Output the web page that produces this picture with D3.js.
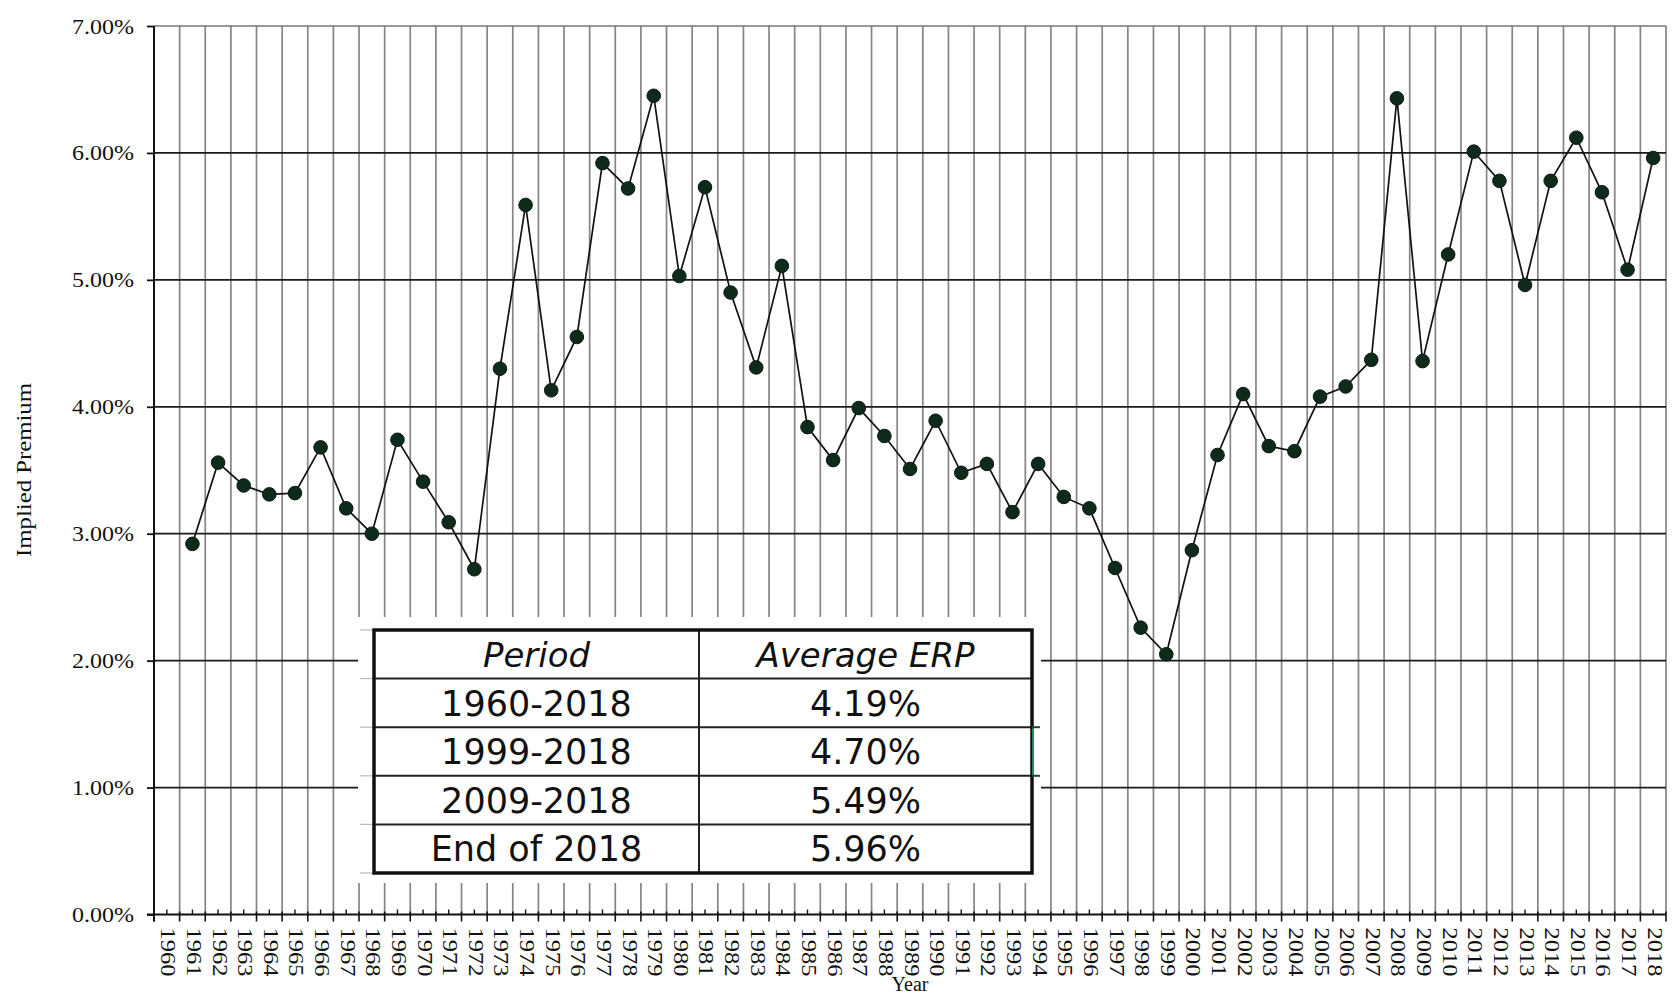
<!DOCTYPE html>
<html><head><meta charset="utf-8">
<script src="https://cdn.jsdelivr.net/npm/d3@7"></script>
<style>body{margin:0;background:#fff;}svg{display:block}</style>
</head><body>
<svg id="chart" width="1674" height="995"></svg>
<script>
// ---- data ----
const years = ["1960","1961","1962","1963","1964","1965","1966","1967","1968","1969",
  "1970","1971","1972","1973","1974","1975","1976","1977","1978","1979",
  "1980","1981","1982","1983","1984","1985","1986","1987","1988","1989",
  "1990","1991","1992","1993","1994","1995","1996","1997","1998","1999",
  "2000","2001","2002","2003","2004","2005","2006","2007","2008","2009",
  "2010","2011","2012","2013","2014","2015","2016","2017","2018"];
// implied premium (%) — 1960 has no plotted point
const premium = [null,2.92,3.56,3.38,3.31,3.32,3.68,3.20,3.00,3.74,
  3.41,3.09,2.72,4.30,5.59,4.13,4.55,5.92,5.72,6.45,
  5.03,5.73,4.90,4.31,5.11,3.84,3.58,3.99,3.77,3.51,
  3.89,3.48,3.55,3.17,3.55,3.29,3.20,2.73,2.26,2.05,
  2.87,3.62,4.10,3.69,3.65,4.08,4.16,4.37,6.43,4.36,
  5.20,6.01,5.78,4.96,5.78,6.12,5.69,5.08,5.96];
const yTicks = [0,1,2,3,4,5,6,7];
const yTickLabels = ["0.00%","1.00%","2.00%","3.00%","4.00%","5.00%","6.00%","7.00%"];
const tableHeaders = ["Period","Average ERP"];
const tablePeriods = ["1960-2018","1999-2018","2009-2018","End of 2018"];
const tableAverages = ["4.19%","4.70%","5.49%","5.96%"];
const xTitle = "Year";
const yTitle = "Implied Premium";

// ---- layout ----
const svg = d3.select("#chart");
const L = 154, R = 1666, T = 26, B = 914.5;
const x = d3.scaleBand().domain(years).range([L, R]).padding(0);
const y = d3.scaleLinear().domain([0, 7]).range([B, T]);
const serif = "'Liberation Serif','Times New Roman',serif";

// vertical gridlines at band boundaries
const bounds = years.slice(1).map(d => x(d)).concat([R]);
svg.append("g").selectAll("line").data(bounds).join("line")
  .attr("x1", d => d).attr("x2", d => d).attr("y1", T).attr("y2", B)
  .attr("stroke", "#858585").attr("stroke-width", 1.7);

// horizontal gridlines
svg.append("g").selectAll("line").data(yTicks.filter(d => d > 0)).join("line")
  .attr("x1", L).attr("x2", R).attr("y1", d => y(d)).attr("y2", d => y(d))
  .attr("stroke", d => d === 7 ? "#777" : "#1a1a1a").attr("stroke-width", d => d === 7 ? 1.6 : 1.8);

// white backdrop for table
svg.append("rect").attr("x", 358).attr("y", 617).attr("width", 683).attr("height", 266).attr("fill", "#fff");

// axes
const yAxis = d3.axisLeft(y).tickValues(yTicks).tickSize(7).tickFormat((d, i) => yTickLabels[i]);
const gy = svg.append("g").attr("transform", `translate(${L},0)`).call(yAxis);
gy.select(".domain").remove();
gy.selectAll(".tick line").attr("stroke", "#111").attr("stroke-width", 1.8);
gy.selectAll(".tick text").attr("x", -20).attr("font-family", serif).attr("font-size", 22).attr("fill", "#111")
  .attr("textLength", 62).attr("lengthAdjust", "spacingAndGlyphs");
svg.append("line").attr("x1", L).attr("x2", L).attr("y1", T).attr("y2", B + 7)
  .attr("stroke", "#111").attr("stroke-width", 2);

const xAxis = d3.axisBottom(x).tickSize(0).tickFormat(d => d);
const gx = svg.append("g").attr("transform", `translate(0,${B})`).call(xAxis);
gx.select(".domain").remove();
gx.selectAll(".tick text")
  .attr("transform", "translate(2,13) rotate(90)")
  .attr("text-anchor", "start").attr("dominant-baseline", "central")
  .attr("x", 0).attr("y", 0).attr("dy", null)
  .attr("font-family", serif).attr("font-size", 22).attr("fill", "#111")
  .attr("textLength", 49).attr("lengthAdjust", "spacingAndGlyphs");
svg.append("line").attr("x1", L - 7).attr("x2", R).attr("y1", B).attr("y2", B)
  .attr("stroke", "#111").attr("stroke-width", 2);
// major ticks (band boundaries)
svg.append("g").selectAll("line").data([L].concat(bounds)).join("line")
  .attr("x1", d => d).attr("x2", d => d).attr("y1", B - 3).attr("y2", B + 7)
  .attr("stroke", "#111").attr("stroke-width", 1.6);
// minor ticks (band centres)
svg.append("g").selectAll("line").data(years).join("line")
  .attr("x1", d => x(d) + x.bandwidth() / 2).attr("x2", d => x(d) + x.bandwidth() / 2)
  .attr("y1", B - 5).attr("y2", B)
  .attr("stroke", "#111").attr("stroke-width", 1.4);

// titles
svg.append("text").attr("transform", `translate(31,470) rotate(-90)`)
  .attr("text-anchor", "middle").attr("font-family", serif).attr("font-size", 20).attr("fill", "#111")
  .attr("textLength", 174).attr("lengthAdjust", "spacingAndGlyphs").text(yTitle);
svg.append("text").attr("x", (L + R) / 2).attr("y", 991)
  .attr("text-anchor", "middle").attr("font-family", serif).attr("font-size", 20).attr("fill", "#111").text(xTitle);

// line + points
const pts = years.map((d, i) => ({ year: d, v: premium[i] })).filter(d => d.v !== null);
const line = d3.line().x(d => x(d.year) + x.bandwidth() / 2).y(d => y(d.v));
svg.append("path").datum(pts).attr("d", line).attr("fill", "none").attr("stroke", "#111").attr("stroke-width", 1.7);
svg.append("g").selectAll("circle").data(pts).join("circle")
  .attr("cx", d => x(d.year) + x.bandwidth() / 2).attr("cy", d => y(d.v)).attr("r", 6.8)
  .attr("fill", "#0e2a1a").attr("stroke", "#0a1a10").attr("stroke-width", 1);

// ---- table ----
const tL = 374, tR = 1032, tT = 630, tB = 873, tMid = 699;
const rowH = (tB - tT) / 5;
const tg = svg.append("g");
// faint stubs at left of row lines
tg.selectAll("line.stub").data(d3.range(6)).join("line").attr("class", "stub")
  .attr("x1", 360).attr("x2", tL).attr("y1", i => tT + i * rowH).attr("y2", i => tT + i * rowH)
  .attr("stroke", "#bbb").attr("stroke-width", 1.2);
tg.selectAll("line.row").data(d3.range(1, 5)).join("line").attr("class", "row")
  .attr("x1", tL).attr("x2", tR).attr("y1", i => tT + i * rowH).attr("y2", i => tT + i * rowH)
  .attr("stroke", "#222").attr("stroke-width", 2);
tg.append("line").attr("x1", tMid).attr("x2", tMid).attr("y1", tT).attr("y2", tB)
  .attr("stroke", "#222").attr("stroke-width", 2);
tg.append("rect").attr("x", tL).attr("y", tT).attr("width", tR - tL).attr("height", tB - tT)
  .attr("fill", "none").attr("stroke", "#111").attr("stroke-width", 3.5);
// green selection marker
tg.append("line").attr("x1", tR + 1).attr("x2", tR + 1).attr("y1", tT + 2 * rowH).attr("y2", tT + 3 * rowH)
  .attr("stroke", "#1f8a5a").attr("stroke-width", 2);
tg.selectAll("line.gstub").data([2, 3]).join("line").attr("class", "gstub")
  .attr("x1", tR).attr("x2", tR + 8).attr("y1", i => tT + i * rowH).attr("y2", i => tT + i * rowH)
  .attr("stroke", "#1b4a33").attr("stroke-width", 2);

const sans = "'DejaVu Sans','Open Sans',sans-serif";
const c1 = (tL + tMid) / 2, c2 = (tMid + tR) / 2;
tg.selectAll("text.h").data(tableHeaders).join("text").attr("class", "h")
  .attr("x", (d, i) => i === 0 ? c1 : c2).attr("y", tT + rowH / 2).attr("dy", "0.36em")
  .attr("text-anchor", "middle").attr("font-family", sans).attr("font-style", "italic")
  .attr("font-size", 34).attr("fill", "#111").text(d => d);
tg.selectAll("text.p").data(tablePeriods).join("text").attr("class", "p")
  .attr("x", c1).attr("y", (d, i) => tT + (i + 1.5) * rowH).attr("dy", "0.36em")
  .attr("text-anchor", "middle").attr("font-family", sans).attr("font-size", 35).attr("fill", "#111").text(d => d);
tg.selectAll("text.a").data(tableAverages).join("text").attr("class", "a")
  .attr("x", c2).attr("y", (d, i) => tT + (i + 1.5) * rowH).attr("dy", "0.36em")
  .attr("text-anchor", "middle").attr("font-family", sans).attr("font-size", 35).attr("fill", "#111").text(d => d);
</script>
</body></html>
